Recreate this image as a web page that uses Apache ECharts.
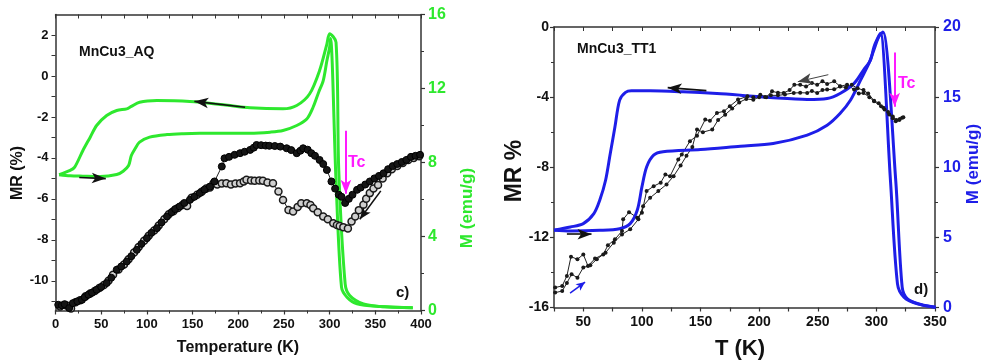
<!DOCTYPE html>
<html>
<head>
<meta charset="utf-8">
<script src="https://cdn.jsdelivr.net/npm/echarts@6/dist/echarts.min.js"></script>
<style>
  html, body { margin: 0; padding: 0; background: #fff; }
  #chart { width: 984px; height: 360px; }
</style>
</head>
<body>
<div id="chart"></div>
<script>
// ---- panel c) MnCu3_AQ : MR (%) vs T, and M (emu/g) vs T ----
var aqMrFilled = [
  [3,-11.17],[7,-11.2],[10,-11.14],[15,-11.33],[19,-11.09],[24,-11.0],[29,-10.93],[32,-10.8],
  [36,-10.68],[40,-10.58],[45,-10.44],[50,-10.3],[56,-10.11],[61,-9.85],[67,-9.46],[72,-9.3],
  [78,-9.06],[83,-8.8],[89,-8.49],[94,-8.2],[100,-7.92],[105,-7.66],[111,-7.43],[116,-7.15],
  [122,-6.86],[127,-6.65],[131,-6.5],[136,-6.37],[141,-6.2],[147,-6.05],[152,-5.9],[158,-5.72],
  [163,-5.55],[169,-5.4],[174,-5.15],[182,-4.42],[185,-4.02],[190,-3.95],[196,-3.85],[202,-3.77],
  [207,-3.7],[213,-3.61],[217,-3.5],[220,-3.37],[225,-3.38],[230,-3.4],[234,-3.41],[240,-3.42],
  [246,-3.45],[253,-3.53],[258,-3.62],[264,-3.77],[268,-3.65],[271,-3.53],[276,-3.6],[280,-3.77],
  [284,-3.9],[289,-4.1],[293,-4.3],[297,-4.59],[302,-5.15],[306,-5.5],[310,-5.8],[313,-5.9],
  [317,-6.2],[321,-6.0],[325,-5.8],[330,-5.56],[334,-5.45],[339,-5.3],[344,-5.15],[349,-5.0],
  [354,-4.88],[359,-4.75],[364,-4.55],[369,-4.4],[374,-4.3],[379,-4.2],[384,-4.1],[389,-3.95],
  [394,-3.9],[399,-3.85]
];
var aqMrOpen = [
  [5,-11.25],[12,-11.2],[17,-11.35],[22,-11.05],[27,-10.95],[33,-10.75],[38,-10.62],[43,-10.5],
  [48,-10.35],[53,-10.2],[58,-10.0],[63,-9.7],[69,-9.45],[75,-9.2],[80,-8.95],[86,-8.62],
  [91,-8.35],[97,-8.05],[102,-7.8],[108,-7.55],[113,-7.3],[119,-7.0],[124,-6.75],[129,-6.6],
  [134,-6.45],[139,-6.3],[144,-6.35],[149,-5.95],[155,-5.8],[160,-5.65],[165,-5.5],[169,-5.45],
  [173,-5.24],[177,-5.3],[182,-5.25],[187,-5.24],[192,-5.3],[197,-5.25],[202,-5.24],[206,-5.15],
  [209,-5.07],[214,-5.1],[218,-5.12],[223,-5.1],[227,-5.12],[232,-5.2],[238,-5.24],[244,-5.64],
  [249,-6.05],[255,-6.54],[260,-6.62],[265,-6.4],[269,-6.21],[275,-6.21],[279,-6.3],[282,-6.46],
  [287,-6.65],[293,-6.86],[298,-7.0],[304,-7.19],[308,-7.28],[311,-7.32],[315,-7.38],[320,-7.45],
  [324,-7.1],[328,-6.86],[332,-6.55],[337,-6.29],[340,-6.0],[344,-5.72],[348,-5.5],[353,-5.32],
  [358,-5.0],[363,-4.75],[368,-4.55],[374,-4.4],[380,-4.25],[386,-4.1],[392,-4.0],[398,-3.92]
];
var aqMHeat = [
  [4,7.34],[16,7.28],[30,7.26],[49,7.24],[67,7.35],[74,7.53],[80,7.84],[83,8.38],[87,8.74],
  [92,9.1],[103,9.37],[122,9.51],[140,9.56],[158,9.58],[185,9.58],[213,9.58],[235,9.64],
  [249,9.73],[264,10.0],[275,10.35],[282,11.0],[288,11.8],[293,12.43],[297,13.5],[300,14.23],
  [301,14.7],[307,7.0],[313,1.26],[319,0.72],[330,0.36],[355,0.22],[391,0.15]
];
var aqMCool = [
  [391,0.15],[360,0.2],[337,0.36],[322,0.81],[317,1.44],[310,7.57],[307,14.5],[300,14.96],
  [297,14.4],[289,12.97],[278,11.7],[264,11.08],[249,10.9],[213,10.96],[184,11.12],[147,11.3],
  [111,11.35],[92,11.26],[83,11.03],[78,10.9],[67,10.81],[56,10.54],[45,10.0],[38,9.37],
  [30,8.65],[21,7.75],[16,7.57],[4,7.34]
];

// ---- panel d) MnCu3_TT1 ----
var tt1MrA = [
  [26,-14.86],[32,-14.77],[36,-14.2],[39.5,-13.1],[45,-13.25],[50,-12.97],[54,-13.63],[60,-13.21],
  [67,-12.97],[71,-12.45],[77,-12.11],[83,-11.64],[84,-10.97],[89,-10.56],[96,-10.88],[100,-10.59],
  [104,-9.36],[110,-9.08],[116,-8.88],[120,-8.41],[124,-8.51],[131,-7.56],[134,-7.27],[141,-6.51],
  [147,-6.2],[154,-5.28],[158,-5.35],[164,-4.9],[170,-4.81],[175,-4.52],[182,-4.14],[190,-3.95],
  [195,-4.0],[201,-3.86],[206,-4.0],[211,-3.67],[216,-3.75],[221,-3.76],[226,-3.6],[230,-3.3],
  [235,-3.29],[240,-3.4],[245,-3.19],[249.5,-3.3],[254,-3.1],[258,-3.25],[264,-3.1],[269,-3.38],
  [275,-3.29],[281,-3.57],[285,-3.8],[289,-3.76],[294,-4.0],[298,-4.24],[304,-4.52],[307,-4.7],
  [311,-4.99],[314,-5.2],[316.5,-5.37],[319.5,-5.3],[322,-5.18]
];
var tt1MrB = [
  [26,-15.15],[32,-15.06],[36,-14.6],[40,-14.1],[45,-14.3],[50,-13.72],[56,-13.59],[61.5,-13.25],
  [69,-12.87],[76,-12.3],[83,-11.83],[90,-11.54],[97,-10.97],[101,-10.22],[107,-9.74],[114,-9.36],
  [121,-8.98],[127,-8.51],[133,-7.9],[138,-7.35],[143,-6.85],[147,-5.85],[152,-6.0],[160,-5.85],
  [165,-5.3],[171,-5.0],[177,-4.65],[183,-4.3],[189,-4.1],[195,-4.15],[200,-4.0],[205,-3.99],
  [210,-3.9],[216,-3.9],[222,-3.85],[229.5,-3.76],[235,-3.75],[241,-3.76],[245,-3.65],[249.5,-3.76],
  [254,-3.6],[258,-3.57],[264,-3.55],[269,-3.4],[274,-3.45],[279,-3.3],[284,-3.5],[289,-3.6],
  [293,-3.8],[298,-4.2],[302,-4.35],[306,-4.6],[310,-4.85],[314,-5.1],[317,-5.3],[320,-5.25],[323,-5.15]
];
var tt1MHeat = [
  [25,5.5],[39,5.45],[64,5.5],[81,5.62],[90,5.98],[96,6.93],[100,8.6],[104,10.02],[110,10.86],
  [118,11.1],[150,11.26],[184,11.5],[212,11.69],[241,12.29],[258,13.0],[269,13.83],[278,14.79],
  [286.5,16.21],[293.6,17.4],[298,18.4],[302,19.3],[305.6,19.65],[316.5,9.07],[322,1.45],
  [326.5,0.62],[338,0.21],[350.5,0.02]
];
var tt1MCool = [
  [350.5,0.02],[335,0.26],[323.5,0.74],[318,1.69],[312,9.07],[303.6,19.55],[302.3,19.4],
  [298,18.6],[295,17.64],[289,16.93],[281,15.98],[269,15.26],[258,14.9],[241,14.83],[212,14.95],
  [184,15.14],[164,15.26],[135,15.38],[107,15.45],[91,15.45],[86,15.34],[81,14.79],[77,12.88],
  [73,10.98],[69,9.07],[64,7.64],[59,6.69],[50,5.98],[39,5.74],[25,5.52]
];

var aqMrLabels = [-10, -8, -6, -4, -2, 0, 2];
var aqMrTicks = [-11, -10, -9, -8, -7, -6, -5, -4, -3, -2, -1, 0, 1, 2];

var FONT = 'Liberation Sans, Arial, sans-serif';
var GREEN = '#2ee82e';
var BLUE = '#1e1ee8';
var MAGENTA = '#ff1aff';
var AXIS = '#333';

function axisBase(extra) {
  var a = {
    type: 'value',
    axisLine: { show: true, onZero: false, lineStyle: { color: AXIS, width: 1.5 } },
    axisTick: { show: true, length: 4, lineStyle: { color: AXIS, width: 1.2 } },
    minorTick: { show: false },
    splitLine: { show: false },
    axisLabel: { fontFamily: FONT, fontWeight: 'bold', fontSize: 13, color: '#111', margin: 7 }
  };
  for (var k in extra) a[k] = extra[k];
  return a;
}

var chart = echarts.init(document.getElementById('chart'), null, { renderer: 'canvas' });

var option = {
  animation: false,
  backgroundColor: '#fff',
  grid: [
    { left: 55.5, top: 14.5, width: 365.5, height: 296 },
    { left: 554, top: 27, width: 381, height: 280.5 }
  ],
  xAxis: [
    axisBase({ gridIndex: 0, min: 0, max: 400, interval: 50,
      minorTick: { show: true, splitNumber: 2, length: 3, lineStyle: { color: AXIS } } }),
    axisBase({ gridIndex: 0, position: 'top', min: 0, max: 400, interval: 25,
      axisLabel: { show: false }, axisTick: { inside: true, length: 4, lineStyle: { color: AXIS } } }),
    axisBase({ gridIndex: 1, min: 25, max: 350, interval: 25,
      axisLabel: { fontFamily: FONT, fontWeight: 'bold', fontSize: 14, color: '#111', margin: 8,
        formatter: function (v) { return v % 50 === 0 ? String(v) : ''; } } }),
    axisBase({ gridIndex: 1, position: 'top', min: 25, max: 350, interval: 25,
      axisLabel: { show: false }, axisTick: { inside: true, length: 4, lineStyle: { color: AXIS } } })
  ],
  yAxis: [
    axisBase({ gridIndex: 0, min: -11.45, max: 3,
      axisLabel: { fontFamily: FONT, fontWeight: 'bold', fontSize: 13, color: '#111', margin: 7,
        customValues: aqMrLabels },
      axisTick: { length: 4, customValues: aqMrTicks, lineStyle: { color: AXIS } } }),
    axisBase({ gridIndex: 0, position: 'right', min: 0, max: 16, interval: 4,
      minorTick: { show: true, splitNumber: 2, length: 3, lineStyle: { color: AXIS } },
      axisLabel: { fontFamily: FONT, fontWeight: 'bold', fontSize: 16, color: GREEN, margin: 7 } }),
    axisBase({ gridIndex: 1, min: -16, max: 0, interval: 4,
      minorTick: { show: true, splitNumber: 2, length: 3, lineStyle: { color: AXIS } },
      axisLabel: { fontFamily: FONT, fontWeight: 'bold', fontSize: 14, color: '#111', margin: 5 } }),
    axisBase({ gridIndex: 1, position: 'right', min: 0, max: 20, interval: 5,
      minorTick: { show: true, splitNumber: 2, length: 3, lineStyle: { color: AXIS } },
      axisLabel: { fontFamily: FONT, fontWeight: 'bold', fontSize: 16, color: BLUE, margin: 8 } })
  ],
  series: [
    { name: 'AQ MR open', type: 'line', xAxisIndex: 0, yAxisIndex: 0, data: aqMrOpen,
      symbol: 'circle', symbolSize: 7,
      itemStyle: { color: '#cfcfcf', borderColor: '#1a1a1a', borderWidth: 1.5 },
      lineStyle: { color: '#222', width: 1 } },
    { name: 'AQ MR filled', type: 'line', xAxisIndex: 0, yAxisIndex: 0, data: aqMrFilled,
      symbol: 'circle', symbolSize: 7,
      itemStyle: { color: '#151515', borderColor: '#000', borderWidth: 1 },
      lineStyle: { color: '#222', width: 1 } },
    { name: 'AQ M heat', type: 'line', xAxisIndex: 0, yAxisIndex: 1, data: aqMHeat,
      showSymbol: false, smooth: 0.3, lineStyle: { color: GREEN, width: 3 } },
    { name: 'AQ M cool', type: 'line', xAxisIndex: 0, yAxisIndex: 1, data: aqMCool,
      showSymbol: false, smooth: 0.3, lineStyle: { color: GREEN, width: 3 } },
    { name: 'AQ arrows', type: 'line', xAxisIndex: 0, yAxisIndex: 0, data: [],
      markLine: {
        silent: true, symbol: ['none', 'arrow'], symbolSize: [8, 14], label: { show: false },
        lineStyle: { type: 'solid', color: '#111', width: 1.6 },
        data: [
          [{ coord: [207.5, -1.53] }, { coord: [152, -1.24] }],
          [{ coord: [26, -4.96] }, { coord: [55, -5.01] }],
          [{ coord: [356, -5.61] }, { coord: [333, -7.0], symbolSize: [7, 12] }],
          [{ coord: [317.8, -2.68], lineStyle: { color: MAGENTA, width: 2 } },
           { coord: [317.8, -5.75], lineStyle: { color: MAGENTA, width: 2 } }]
        ]
      } },
    { name: 'TT1 MR A', type: 'line', xAxisIndex: 2, yAxisIndex: 2, data: tt1MrA,
      symbol: 'circle', symbolSize: 4, itemStyle: { color: '#1a1a1a' },
      lineStyle: { color: '#222', width: 1 } },
    { name: 'TT1 MR B', type: 'line', xAxisIndex: 2, yAxisIndex: 2, data: tt1MrB,
      symbol: 'circle', symbolSize: 4, itemStyle: { color: '#1a1a1a' },
      lineStyle: { color: '#222', width: 1 } },
    { name: 'TT1 M heat', type: 'line', xAxisIndex: 2, yAxisIndex: 3, data: tt1MHeat,
      showSymbol: false, smooth: 0.3, lineStyle: { color: BLUE, width: 3 } },
    { name: 'TT1 M cool', type: 'line', xAxisIndex: 2, yAxisIndex: 3, data: tt1MCool,
      showSymbol: false, smooth: 0.3, lineStyle: { color: BLUE, width: 3 } },
    { name: 'TT1 arrows', type: 'line', xAxisIndex: 2, yAxisIndex: 2, data: [],
      markLine: {
        silent: true, symbol: ['none', 'arrow'], symbolSize: [8, 14], label: { show: false },
        lineStyle: { type: 'solid', color: '#111', width: 1.6 },
        data: [
          [{ coord: [155, -3.63] }, { coord: [122, -3.46] }],
          [{ coord: [36, -11.82] }, { coord: [57, -11.82] }],
          [{ coord: [259, -2.72], lineStyle: { color: '#444', width: 1 } }, { coord: [233, -3.12] }],
          [{ coord: [38.7, -15.18], lineStyle: { color: BLUE, width: 1.5 } },
           { coord: [51.5, -14.55], symbolSize: [6, 9] }],
          [{ coord: [315.6, -1.46], lineStyle: { color: MAGENTA, width: 2 } },
           { coord: [315.6, -4.55] }]
        ]
      } }
  ],
  graphic: [
    { type: 'text', x: 79, y: 52.5, style: { text: 'MnCu3_AQ', font: 'bold 14px ' + FONT, fill: '#111', textVerticalAlign: 'middle' } },
    { type: 'text', x: 348, y: 162.5, style: { text: 'Tc', font: 'bold 16px ' + FONT, fill: MAGENTA, textVerticalAlign: 'middle' } },
    { type: 'text', x: 396, y: 293, style: { text: 'c)', font: 'bold 15px ' + FONT, fill: '#111', textVerticalAlign: 'middle' } },
    { type: 'text', x: 18, y: 173, rotation: Math.PI / 2, style: { text: 'MR (%)', font: 'bold 16px ' + FONT, fill: '#111', textAlign: 'center', textVerticalAlign: 'middle' } },
    { type: 'text', x: 238, y: 348, style: { text: 'Temperature (K)', font: 'bold 16px ' + FONT, fill: '#111', textAlign: 'center', textVerticalAlign: 'middle' } },
    { type: 'text', x: 467, y: 208, rotation: Math.PI / 2, style: { text: 'M (emu/g)', font: 'bold 17px ' + FONT, fill: GREEN, textAlign: 'center', textVerticalAlign: 'middle' } },
    { type: 'text', x: 577, y: 49, style: { text: 'MnCu3_TT1', font: 'bold 14px ' + FONT, fill: '#111', textVerticalAlign: 'middle' } },
    { type: 'text', x: 898, y: 84, style: { text: 'Tc', font: 'bold 16px ' + FONT, fill: MAGENTA, textVerticalAlign: 'middle' } },
    { type: 'text', x: 914, y: 290, style: { text: 'd)', font: 'bold 15px ' + FONT, fill: '#111', textVerticalAlign: 'middle' } },
    { type: 'text', x: 515, y: 171, rotation: Math.PI / 2, style: { text: 'MR %', font: 'bold 23px ' + FONT, fill: '#111', textAlign: 'center', textVerticalAlign: 'middle' } },
    { type: 'text', x: 740, y: 349, style: { text: 'T (K)', font: 'bold 22px ' + FONT, fill: '#111', textAlign: 'center', textVerticalAlign: 'middle' } },
    { type: 'text', x: 973, y: 164, rotation: Math.PI / 2, style: { text: 'M (emu/g)', font: 'bold 17px ' + FONT, fill: BLUE, textAlign: 'center', textVerticalAlign: 'middle' } }
  ]
};

chart.setOption(option);
</script>
</body>
</html>
